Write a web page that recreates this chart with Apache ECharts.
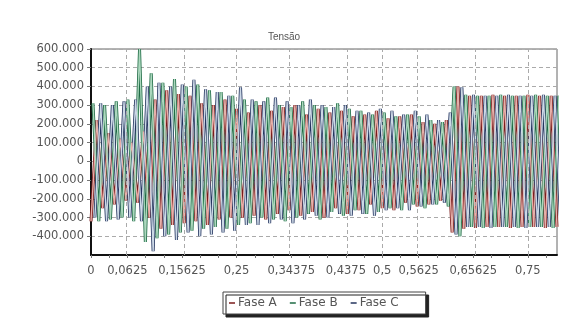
<!DOCTYPE html>
<html>
<head>
<meta charset="utf-8">
<script src="https://cdn.jsdelivr.net/npm/echarts@6/dist/echarts.min.js"></script>
<style>
  html, body { margin: 0; padding: 0; background: #fff; }
  #main { width: 568px; height: 327px; }
</style>
</head>
<body>
<div id="main"></div>
<script>
// extremos (picos / vales) de cada fase, em V
const halfPeriod = 0.01;            // s entre picos sucessivos de uma fase
const phaseOffset = [0, 0.00333, 0.00667];

const faseA = [-320000, 220000, -250000, 150000, -230000, 120000, -210000, 100000, -220000, 160000,
  -300000, 330000, -360000, 380000, -340000, 360000, -330000, 350000, -320000, 310000,
  -340000, 300000, -310000, 330000, -300000, 280000, -300000, 260000, -290000, 300000,
  -310000, 270000, -280000, 290000, -260000, 300000, -290000, 250000, -270000, 280000,
  -300000, 260000, -250000, 270000, -280000, 240000, -260000, 250000, -230000, 270000,
  -250000, 230000, -260000, 240000, -220000, 250000, -240000, 210000, -230000, 200000,
  -210000, 220000, -380000, 400000, -360000, 350000, -355000, 350000, -350000, 355000,
  -350000, 350000, -355000, 350000, -350000, 355000, -350000, 350000, -355000, 350000, -350000];
const faseB = [310000, -320000, 300000, -310000, 320000, -300000, 330000, -320000, 600000, -430000,
  470000, -410000, 420000, -390000, 440000, -380000, 400000, -370000, 410000, -360000,
  380000, -350000, 370000, -360000, 350000, -340000, 330000, -330000, 320000, -300000,
  340000, -310000, 300000, -320000, 290000, -300000, 320000, -280000, 300000, -310000,
  290000, -270000, 310000, -290000, 280000, -260000, 270000, -280000, 250000, -270000,
  260000, -250000, 240000, -260000, 250000, -230000, 240000, -250000, 220000, -230000,
  210000, -240000, 400000, -400000, 355000, -350000, 350000, -355000, 350000, -350000,
  355000, -350000, 350000, -355000, 350000, -350000, 355000, -350000, 350000, -355000, 350000];
const faseC = [-300000, 310000, -320000, 300000, -310000, 320000, -300000, 330000, -320000, 400000,
  -480000, 420000, -400000, 400000, -420000, 410000, -380000, 435000, -400000, 385000,
  -390000, 370000, -380000, 350000, -370000, 395000, -340000, 330000, -340000, 320000,
  -330000, 340000, -310000, 320000, -330000, 300000, -310000, 330000, -290000, 300000,
  -300000, 290000, -280000, 300000, -290000, 270000, -280000, 260000, -290000, 280000,
  -260000, 270000, -250000, 250000, -260000, 270000, -240000, 250000, -230000, 220000,
  -220000, 260000, -390000, 395000, -350000, 355000, -350000, 350000, -355000, 350000,
  -350000, 355000, -350000, 350000, -355000, 350000, -350000, 355000, -350000, 350000, -355000];

const seriesNames = ['Fase A', 'Fase B', 'Fase C'];
const edgeColors = ['#7a1c1c', '#1f6b45', '#24345e'];
const faceColors = ['#e6b0aa', '#acd8be', '#ccd8e6'];

const xLabels = [0, 0.0625, 0.15625, 0.25, 0.34375, 0.4375, 0.5, 0.5625, 0.65625, 0.75];
const yTicks = [-400000, -300000, -200000, -100000, 0, 100000, 200000, 300000, 400000, 500000, 600000];

function toPairs(vals, p) {
  return vals.map((v, k) => [k * halfPeriod + phaseOffset[p], v]);
}

function fmtY(v) {
  if (v === 0) return '0';
  const s = String(Math.abs(v)).replace(/\B(?=(\d{3})+(?!\d))/g, '.');
  return (v < 0 ? '-' : '') + s;
}

const chart = echarts.init(document.getElementById('main'), null, {renderer: 'canvas'});

const phases = [faseA, faseB, faseC];
const series = [];
phases.forEach((vals, p) => {
  series.push({
    name: seriesNames[p], type: 'line', data: toPairs(vals, p),
    symbol: 'none', animation: false, color: edgeColors[p],
    lineStyle: {width: 3, color: edgeColors[p]}, z: 2
  });
});
phases.forEach((vals, p) => {
  series.push({
    name: seriesNames[p], type: 'line', data: toPairs(vals, p),
    symbol: 'none', animation: false, color: edgeColors[p],
    lineStyle: {width: 1.4, color: faceColors[p]}, z: 3
  });
});
// linhas verticais da grade nas posições dos rótulos
series.push({
  type: 'line', data: [], silent: true,
  markLine: {
    symbol: 'none', silent: true, animation: false, label: {show: false},
    lineStyle: {type: [4, 3], color: '#aaa', width: 1},
    data: xLabels.filter(v => v > 0).map(v => ({xAxis: v}))
  }
});

const labelFont = 'DejaVu Sans, Verdana, sans-serif';

chart.setOption({
  backgroundColor: '#fff',
  animation: false,
  textStyle: {fontFamily: labelFont},
  title: {
    text: 'Tensão', left: 'center', top: 27,
    textStyle: {fontSize: 10, fontWeight: 'normal', color: '#555', fontFamily: 'Liberation Sans, Arial, sans-serif'}
  },
  legend: {
    data: seriesNames, left: 223, top: 292,
    padding: [5, 27, 5, 6], itemGap: 13,
    icon: 'rect', itemWidth: 6, itemHeight: 1.5,
    textStyle: {fontSize: 12, color: '#555', padding: [0, 0, 0, -2], fontFamily: labelFont},
    backgroundColor: '#fff', borderColor: '#444', borderWidth: 1,
    shadowColor: '#222', shadowBlur: 0, shadowOffsetX: 3, shadowOffsetY: 3
  },
  grid: {
    left: 91, right: 11, top: 49, bottom: 72,
    show: true, borderColor: '#666', borderWidth: 1, backgroundColor: '#fff'
  },
  xAxis: {
    type: 'value', min: 0, max: 0.8, interval: 0.03125,
    axisLine: {show: true, onZero: false, lineStyle: {color: '#111', width: 2}},
    axisTick: {show: true, length: 3, lineStyle: {color: '#777'}},
    splitLine: {show: false},
    axisLabel: {
      color: '#555', fontSize: 11.5, margin: 10, showMaxLabel: false, fontFamily: labelFont,
      formatter: v => xLabels.indexOf(v) >= 0 ? String(v).replace('.', ',') : ''
    }
  },
  yAxis: {
    type: 'value', min: -500000, max: 600000, interval: 100000,
    axisLine: {show: true, onZero: false, lineStyle: {color: '#111', width: 2}},
    axisTick: {show: true, length: 4, lineStyle: {color: '#777'}},
    splitLine: {show: true, lineStyle: {type: [4, 3], color: '#aaa'}},
    axisLabel: {
      color: '#555', fontSize: 11.5, margin: 7, showMinLabel: false, fontFamily: labelFont,
      formatter: v => yTicks.indexOf(v) >= 0 ? fmtY(v) : ''
    }
  },
  series: series
});
</script>
</body>
</html>
